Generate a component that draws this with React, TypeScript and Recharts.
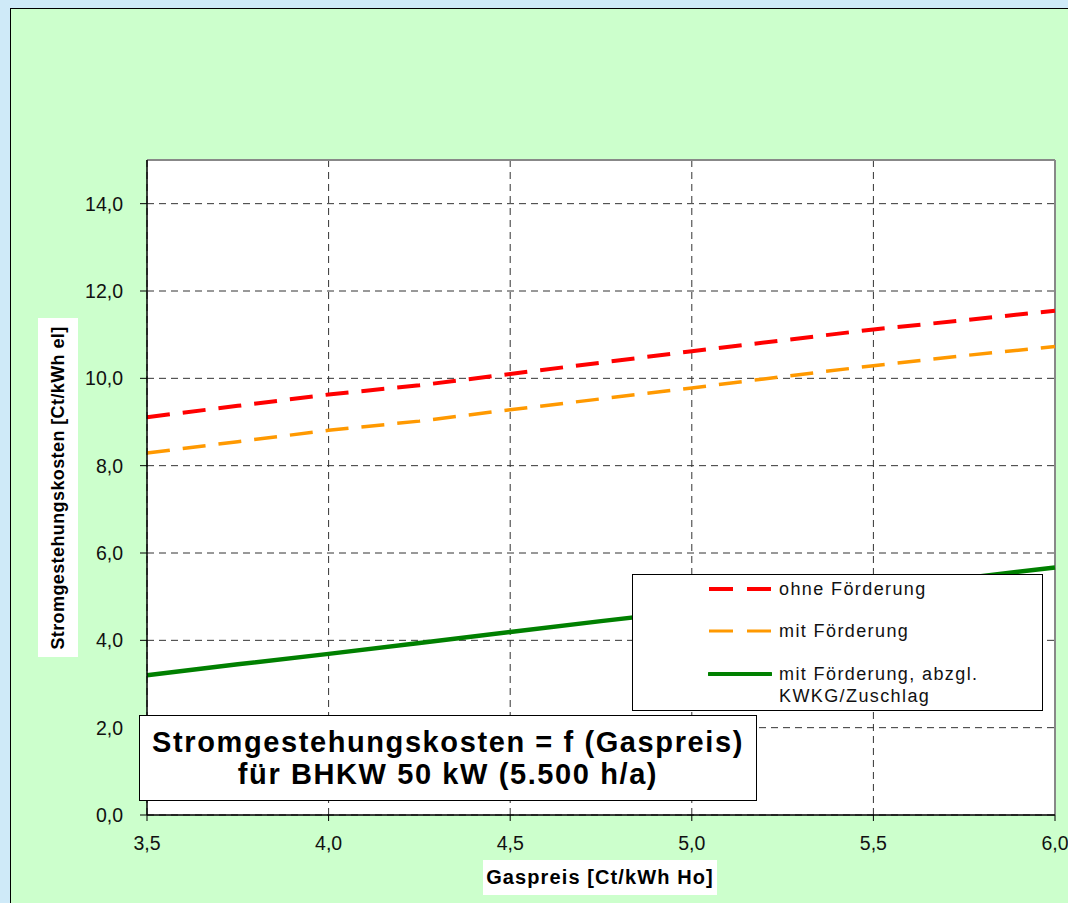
import React from "react";
import { LineChart, Line, XAxis, YAxis, CartesianGrid, ReferenceLine } from "recharts";

// Gaspreis [Ct/kWh Ho]
const gasPrices = [3.5, 3.75, 4.0, 4.25, 4.5, 4.75, 5.0, 5.25, 5.5, 5.75, 6.0];
// Stromgestehungskosten [Ct/kWh el]
const ohneFoerderung = [9.11, 9.37, 9.63, 9.84, 10.1, 10.36, 10.62, 10.87, 11.12, 11.33, 11.55];
const mitFoerderung = [8.29, 8.55, 8.81, 9.02, 9.28, 9.53, 9.78, 10.04, 10.29, 10.52, 10.73];
const mitFoerderungKwkg = [3.2, 3.45, 3.69, 3.94, 4.19, 4.44, 4.68, 4.93, 5.18, 5.42, 5.67];

const xTicks = [3.5, 4.0, 4.5, 5.0, 5.5, 6.0];
const yTicks = [0, 2, 4, 6, 8, 10, 12, 14];

const data = gasPrices.map((x, i) => ({
    x,
    ohne: ohneFoerderung[i],
    mit: mitFoerderung[i],
    kwkg: mitFoerderungKwkg[i],
}));

const FONT = '"Liberation Sans", Arial, sans-serif';
const fmt = (v: number) => v.toFixed(1).replace(".", ",");

const legendItems = [
    { label: "ohne Förderung", color: "#ff0000", width: 4, dash: "24 14", y: 14 },
    { label: "mit Förderung", color: "#ff9900", width: 3, dash: "24 14", y: 56 },
    { label: "mit Förderung, abzgl.", label2: "KWKG/Zuschlag", color: "#008000", width: 4, dash: undefined, y: 99 },
];

export default function App() {
    return (
        <div style={{ position: "absolute", left: 0, top: 0, width: 1068, height: 903, background: "#cfeaf8", overflow: "hidden", fontFamily: FONT }}>
            <div style={{ position: "absolute", left: 10, top: 8, right: 0, bottom: 0, background: "#ccffcc", borderTop: "1px solid #000", borderLeft: "1px solid #000" }} />

            <div style={{ position: "absolute", left: 0, top: 0 }}>
                <LineChart width={1068} height={903} data={data} margin={{ top: 160, right: 13, bottom: 48, left: 87 }}>
                    <CartesianGrid stroke="#333" strokeDasharray="7 5" fill="#ffffff" />
                    <XAxis
                        type="number"
                        dataKey="x"
                        domain={[3.5, 6]}
                        ticks={xTicks}
                        tickFormatter={fmt}
                        height={40}
                        axisLine={{ stroke: "#000", strokeWidth: 1.5 }}
                        tickLine={{ stroke: "#000" }}
                        tickSize={6}
                        tickMargin={15}
                        tick={{ fill: "#111", fontSize: 19.5, fontFamily: FONT }}
                    />
                    <YAxis
                        type="number"
                        domain={[0, 15]}
                        ticks={yTicks}
                        tickFormatter={fmt}
                        width={60}
                        axisLine={{ stroke: "#000", strokeWidth: 1.5 }}
                        tickLine={{ stroke: "#000" }}
                        tickSize={7}
                        tickMargin={17}
                        tick={{ fill: "#111", fontSize: 19.5, fontFamily: FONT }}
                    />
                    <ReferenceLine y={15} stroke="#888" strokeWidth={2} />
                    <ReferenceLine x={6} stroke="#888" strokeWidth={2} />
                    <Line dataKey="ohne" stroke="#ff0000" strokeWidth={4} strokeDasharray="23 13" dot={false} isAnimationActive={false} />
                    <Line dataKey="mit" stroke="#ff9900" strokeWidth={3.5} strokeDasharray="23 13" dot={false} isAnimationActive={false} />
                    <Line dataKey="kwkg" stroke="#008000" strokeWidth={4.5} dot={false} isAnimationActive={false} />
                </LineChart>
            </div>

            {/* y axis title */}
            <div style={{ position: "absolute", left: 38, top: 318, width: 40, height: 339, background: "#fff" }}>
                <div style={{ position: "absolute", left: 20, top: 170, transform: "translate(-50%, -50%) rotate(-90deg)", whiteSpace: "nowrap", fontWeight: "bold", fontSize: 18, letterSpacing: 0.4 }}>
                    Stromgestehungskosten [Ct/kWh el]
                </div>
            </div>

            {/* x axis title */}
            <div style={{ position: "absolute", left: 483, top: 860, width: 234, height: 35, background: "#fff", display: "flex", alignItems: "center", justifyContent: "center", whiteSpace: "nowrap", fontWeight: "bold", fontSize: 20, letterSpacing: 1.1 }}>
                Gaspreis [Ct/kWh Ho]
            </div>

            {/* legend */}
            <div style={{ position: "absolute", left: 632, top: 574, width: 409, height: 135, background: "#fff", border: "1px solid #000" }}>
                {legendItems.map((it) => (
                    <div key={it.label}>
                        <svg style={{ position: "absolute", left: 75, top: it.y - 5 }} width={64} height={10}>
                            <line x1={1} y1={5} x2={63} y2={5} stroke={it.color} strokeWidth={it.width} strokeDasharray={it.dash} strokeLinecap={it.dash ? "butt" : "round"} />
                        </svg>
                        <div style={{ position: "absolute", left: 146, top: it.y - 11, fontSize: 18, letterSpacing: 1.4, lineHeight: "22px", whiteSpace: "nowrap", color: "#111" }}>
                            {it.label}
                            {it.label2 && <br />}
                            {it.label2}
                        </div>
                    </div>
                ))}
            </div>

            {/* title box */}
            <div style={{ position: "absolute", left: 139, top: 715, width: 616, height: 84, background: "#fff", border: "1px solid #000", display: "flex", flexDirection: "column", alignItems: "center", justifyContent: "center", fontWeight: "bold", fontSize: 29, letterSpacing: 1.6, lineHeight: "32px", color: "#000", whiteSpace: "nowrap" }}>
                <div>Stromgestehungskosten = f (Gaspreis)</div>
                <div>für BHKW 50 kW (5.500 h/a)</div>
            </div>
        </div>
    );
}
